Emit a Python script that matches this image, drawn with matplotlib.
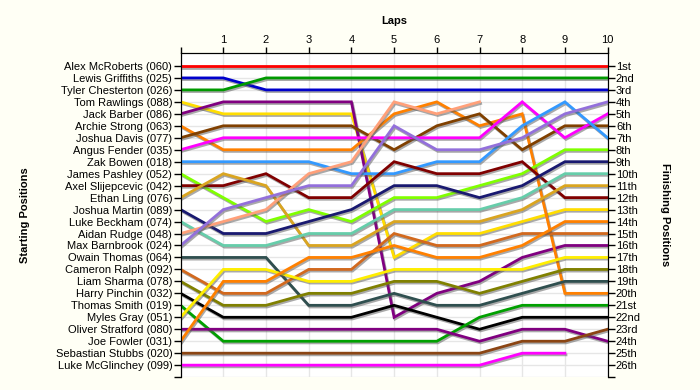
import numpy as np
import matplotlib
matplotlib.use("Agg")
import matplotlib.pyplot as plt
import matplotlib.patheffects as pe

plt.rcParams['font.family'] = ['Liberation Sans', 'DejaVu Sans']

laps = list(range(0, 11))

drivers = [
    "Alex McRoberts (060)", "Lewis Griffiths (025)", "Tyler Chesterton (026)",
    "Tom Rawlings (088)", "Jack Barber (086)", "Archie Strong (063)",
    "Joshua Davis (077)", "Angus Fender (035)", "Zak Bowen (018)",
    "James Pashley (052)", "Axel Slijepcevic (042)", "Ethan Ling (076)",
    "Joshua Martin (089)", "Luke Beckham (074)", "Aidan Rudge (048)",
    "Max Barnbrook (024)", "Owain Thomas (064)", "Cameron Ralph (092)",
    "Liam Sharma (078)", "Harry Pinchin (032)", "Thomas Smith (019)",
    "Myles Gray (051)", "Oliver Stratford (080)", "Joe Fowler (031)",
    "Sebastian Stubbs (020)", "Luke McGlinchey (099)",
]

# позиції після кожного кола (0 = старт), None - зійшов
positions = [
    [1, 1, 1, 1, 1, 1, 1, 1, 1, 1, 1],
    [2, 2, 3, 3, 3, 3, 3, 3, 3, 3, 3],
    [3, 3, 2, 2, 2, 2, 2, 2, 2, 2, 2],
    [4, 5, 5, 5, 5, 17, 15, 15, 14, 13, 13],
    [5, 4, 4, 4, 4, 22, 20, 19, 17, 16, 16],
    [6, 8, 8, 8, 8, 5, 4, 6, 5, 20, 20],
    [7, 6, 6, 6, 6, 8, 6, 5, 8, 6, 6],
    [8, 7, 7, 7, 7, 7, 7, 7, 4, 7, 5],
    [9, 9, 9, 9, 10, 10, 9, 9, 6, 4, 7],
    [10, 12, 14, 13, 14, 12, 12, 11, 10, 8, 8],
    [11, 11, 10, 12, 12, 9, 10, 10, 9, 12, 12],
    [12, 10, 11, 16, 16, 14, 14, 14, 13, 11, 11],
    [13, 15, 15, 14, 13, 11, 11, 12, 11, 9, 9],
    [14, 16, 16, 15, 15, 13, 13, 13, 12, 10, 10],
    [15, 14, 13, 10, 9, 4, 5, 4, None, None, None],
    [16, 13, 12, 11, 11, 6, 8, 8, 7, 5, 4],
    [17, 17, 17, 21, 21, 20, 21, 21, 20, 19, 19],
    [18, 20, 20, 18, 18, 15, 16, 16, 15, 15, 15],
    [19, 21, 21, 20, 20, 19, 19, 20, 19, 18, 18],
    [20, 22, 22, 22, 22, 21, 22, 23, 22, 22, 22],
    [21, 24, 24, 24, 24, 24, 24, 22, 21, 21, 21],
    [22, 18, 18, 19, 19, 18, 18, 18, 18, 17, 17],
    [23, 23, 23, 23, 23, 23, 23, 24, 23, 23, 24],
    [24, 19, 19, 17, 17, 16, 17, 17, 16, 14, 14],
    [25, 25, 25, 25, 25, 25, 25, 25, 24, 24, 23],
    [26, 26, 26, 26, 26, 26, 26, 26, 25, 25, None],
]

colors = [
    "#ff0000", "#0000cc", "#009900", "#ffdd00", "#800080", "#ff8000",
    "#804000", "#ff00ff", "#3399ff", "#80ff00", "#800000", "#daa520",
    "#191970", "#66cdaa", "#ffa07a", "#9370db", "#2f4f4f", "#d2691e",
    "#808000", "#000000", "#00a000", "#ffee00", "#800080", "#ff8000",
    "#8b4513", "#ff00ff",
]

finish_labels = ["1st", "2nd", "3rd"] + [f"{i}th" for i in range(4, 21)] + \
    ["21st", "22nd", "23rd", "24th", "25th", "26th"]

fig = plt.figure(figsize=(7, 3.9), dpi=100, facecolor="#fffff5")
ax = fig.add_axes([0.258, 0.033, 0.61, 0.831])
ax.set_facecolor("white")

shadow = [pe.SimpleLineShadow(offset=(0.8, -1.2), shadow_color="#555555", alpha=0.5),
          pe.Normal()]

for pos, col in zip(positions, colors):
    y = np.array([np.nan if p is None else p for p in pos], dtype=float)
    ax.plot(laps, y, color=col, lw=2, solid_joinstyle="miter", path_effects=shadow, zorder=3)

ax.set_xlim(0, 10)
ax.set_ylim(27, -0.08)

# верхня вісь з колами
ax.xaxis.tick_top()
ax.set_xticks(laps)
ax.set_xticklabels([""] + [str(i) for i in laps[1:]], fontsize=8)
ax.set_xlabel("Laps", fontsize=8, fontweight="bold", labelpad=8)
ax.xaxis.set_label_position("top")

yt = list(range(1, 28))
ax.set_yticks(yt)
ax.set_yticklabels(drivers + [""], fontsize=8)
ax.set_ylabel("Starting Positions", fontsize=8, fontweight="bold")
ax.yaxis.set_label_coords(-0.353, 0.5)

ax2 = ax.twinx()
ax2.set_ylim(ax.get_ylim())
ax2.set_yticks(yt)
ax2.set_yticklabels(finish_labels + [""], fontsize=8)
ax2.set_ylabel("Finishing Positions", fontsize=8, fontweight="bold", rotation=270, va="center")
ax2.yaxis.set_label_coords(1.134, 0.5)

for a in (ax, ax2):
    a.tick_params(length=5, width=1, pad=1, colors="black")
    a.spines["bottom"].set_visible(False)
ax.tick_params(axis="x", length=4, pad=2)

ax.grid(True, color="#e6e6e6", lw=1, zorder=0)
ax.set_axisbelow(True)

fig.savefig("out.png", dpi=100, facecolor=fig.get_facecolor())
